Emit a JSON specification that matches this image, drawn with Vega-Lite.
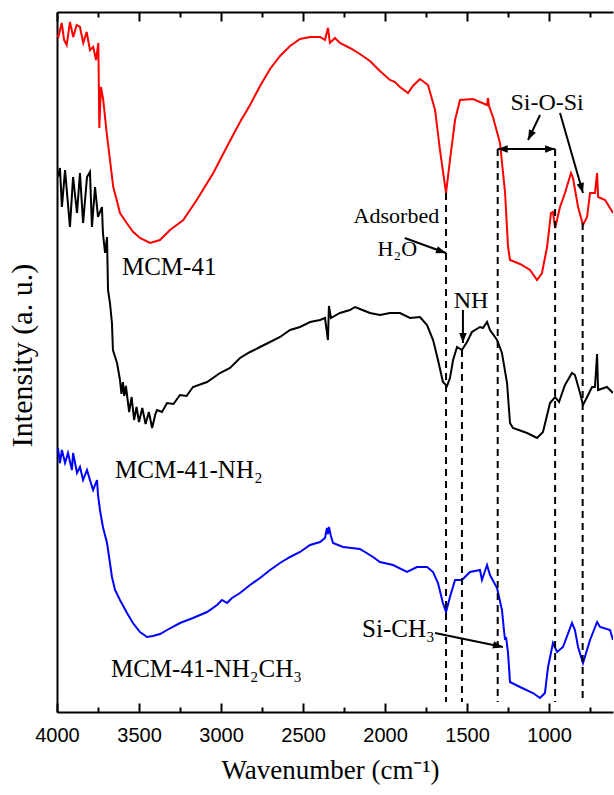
{
  "$schema": "https://vega.github.io/schema/vega-lite/v6.json",
  "autosize": {"type": "none"},
  "width": 556,
  "height": 700,
  "padding": {"left": 57, "top": 12, "right": 1, "bottom": 83},
  "config": {"view": {"stroke": null}, "background": "white"},
  "datasets": {
    "red": [
      {"w":4000,"v":677},{"w":3992,"v":675},{"w":3971,"v":689},{"w":3957,"v":672},{"w":3941,"v":667},{"w":3921,"v":690},{"w":3901,"v":675},{"w":3880,"v":687},{"w":3860,"v":685},{"w":3840,"v":669},{"w":3819,"v":680},{"w":3799,"v":662},{"w":3779,"v":665},{"w":3762,"v":652},{"w":3748,"v":669},{"w":3742,"v":584},{"w":3732,"v":625},{"w":3718,"v":612},{"w":3697,"v":579},{"w":3677,"v":552},{"w":3657,"v":525},{"w":3636,"v":512},{"w":3616,"v":499},{"w":3575,"v":489},{"w":3535,"v":480},{"w":3494,"v":474},{"w":3433,"v":469},{"w":3372,"v":472},{"w":3311,"v":482},{"w":3230,"v":492},{"w":3148,"v":512},{"w":3047,"v":539},{"w":2965,"v":565},{"w":2884,"v":590},{"w":2823,"v":607},{"w":2762,"v":626},{"w":2701,"v":643},{"w":2640,"v":656},{"w":2579,"v":666},{"w":2518,"v":673},{"w":2457,"v":675},{"w":2396,"v":675},{"w":2366,"v":672},{"w":2348,"v":684},{"w":2336,"v":669},{"w":2305,"v":674},{"w":2275,"v":669},{"w":2214,"v":664},{"w":2153,"v":658},{"w":2092,"v":651},{"w":2031,"v":641},{"w":1970,"v":632},{"w":1939,"v":630},{"w":1909,"v":625},{"w":1860,"v":619},{"w":1830,"v":626},{"w":1787,"v":633},{"w":1738,"v":627},{"w":1695,"v":602},{"w":1665,"v":562},{"w":1628,"v":519},{"w":1604,"v":552},{"w":1573,"v":592},{"w":1543,"v":612},{"w":1464,"v":613},{"w":1378,"v":607},{"w":1372,"v":614},{"w":1366,"v":606},{"w":1342,"v":595},{"w":1299,"v":569},{"w":1268,"v":519},{"w":1250,"v":465},{"w":1238,"v":452},{"w":1177,"v":448},{"w":1116,"v":442},{"w":1073,"v":432},{"w":1043,"v":439},{"w":1012,"v":465},{"w":988,"v":499},{"w":976,"v":500},{"w":963,"v":484},{"w":933,"v":505},{"w":903,"v":519},{"w":866,"v":539},{"w":854,"v":534},{"w":823,"v":505},{"w":793,"v":487},{"w":768,"v":495},{"w":750,"v":519},{"w":720,"v":519},{"w":707,"v":539},{"w":701,"v":515},{"w":658,"v":512},{"w":610,"v":499}
    ],
    "black": [
      {"w":3994,"v":535},{"w":3982,"v":544},{"w":3970,"v":505},{"w":3951,"v":542},{"w":3921,"v":485},{"w":3902,"v":535},{"w":3878,"v":499},{"w":3860,"v":539},{"w":3841,"v":489},{"w":3817,"v":535},{"w":3799,"v":540},{"w":3787,"v":485},{"w":3768,"v":525},{"w":3750,"v":495},{"w":3726,"v":505},{"w":3720,"v":479},{"w":3707,"v":459},{"w":3695,"v":475},{"w":3689,"v":422},{"w":3677,"v":409},{"w":3665,"v":389},{"w":3659,"v":362},{"w":3634,"v":349},{"w":3616,"v":332},{"w":3607,"v":318},{"w":3598,"v":330},{"w":3590,"v":316},{"w":3580,"v":326},{"w":3560,"v":300},{"w":3545,"v":315},{"w":3530,"v":292},{"w":3515,"v":305},{"w":3500,"v":290},{"w":3480,"v":304},{"w":3460,"v":288},{"w":3440,"v":300},{"w":3420,"v":284},{"w":3400,"v":298},{"w":3390,"v":302},{"w":3360,"v":300},{"w":3329,"v":309},{"w":3290,"v":308},{"w":3250,"v":317},{"w":3210,"v":316},{"w":3171,"v":325},{"w":3085,"v":330},{"w":3006,"v":339},{"w":2945,"v":344},{"w":2884,"v":354},{"w":2823,"v":360},{"w":2762,"v":365},{"w":2701,"v":370},{"w":2640,"v":375},{"w":2579,"v":382},{"w":2518,"v":385},{"w":2457,"v":390},{"w":2396,"v":392},{"w":2366,"v":394},{"w":2348,"v":372},{"w":2342,"v":406},{"w":2330,"v":394},{"w":2275,"v":399},{"w":2214,"v":402},{"w":2183,"v":405},{"w":2153,"v":403},{"w":2092,"v":399},{"w":2031,"v":397},{"w":1970,"v":399},{"w":1909,"v":399},{"w":1848,"v":394},{"w":1787,"v":395},{"w":1744,"v":387},{"w":1707,"v":372},{"w":1677,"v":352},{"w":1647,"v":330},{"w":1622,"v":326},{"w":1604,"v":334},{"w":1585,"v":352},{"w":1561,"v":365},{"w":1531,"v":362},{"w":1500,"v":370},{"w":1470,"v":380},{"w":1421,"v":385},{"w":1403,"v":384},{"w":1378,"v":390},{"w":1360,"v":382},{"w":1317,"v":372},{"w":1287,"v":359},{"w":1256,"v":329},{"w":1238,"v":289},{"w":1220,"v":284},{"w":1134,"v":279},{"w":1073,"v":274},{"w":1037,"v":280},{"w":994,"v":309},{"w":963,"v":315},{"w":939,"v":310},{"w":903,"v":327},{"w":860,"v":339},{"w":842,"v":337},{"w":811,"v":319},{"w":793,"v":307},{"w":768,"v":315},{"w":738,"v":325},{"w":720,"v":325},{"w":707,"v":358},{"w":701,"v":322},{"w":647,"v":325},{"w":610,"v":319}
    ],
    "blue": [
      {"w":3994,"v":264},{"w":3982,"v":249},{"w":3970,"v":262},{"w":3951,"v":249},{"w":3933,"v":259},{"w":3909,"v":242},{"w":3902,"v":259},{"w":3878,"v":239},{"w":3860,"v":245},{"w":3841,"v":232},{"w":3817,"v":242},{"w":3799,"v":232},{"w":3780,"v":222},{"w":3756,"v":232},{"w":3750,"v":217},{"w":3738,"v":202},{"w":3720,"v":185},{"w":3695,"v":169},{"w":3677,"v":149},{"w":3665,"v":135},{"w":3646,"v":122},{"w":3616,"v":112},{"w":3573,"v":99},{"w":3537,"v":89},{"w":3494,"v":80},{"w":3451,"v":75},{"w":3415,"v":76},{"w":3372,"v":78},{"w":3329,"v":82},{"w":3250,"v":89},{"w":3171,"v":94},{"w":3085,"v":100},{"w":3024,"v":107},{"w":2994,"v":112},{"w":2963,"v":109},{"w":2933,"v":114},{"w":2884,"v":119},{"w":2823,"v":127},{"w":2762,"v":134},{"w":2701,"v":142},{"w":2640,"v":149},{"w":2579,"v":155},{"w":2518,"v":160},{"w":2457,"v":167},{"w":2396,"v":170},{"w":2366,"v":174},{"w":2354,"v":184},{"w":2348,"v":178},{"w":2342,"v":185},{"w":2330,"v":176},{"w":2317,"v":169},{"w":2256,"v":165},{"w":2153,"v":163},{"w":2073,"v":155},{"w":2031,"v":150},{"w":1951,"v":147},{"w":1866,"v":140},{"w":1805,"v":145},{"w":1744,"v":145},{"w":1707,"v":140},{"w":1677,"v":129},{"w":1647,"v":109},{"w":1628,"v":100},{"w":1604,"v":115},{"w":1573,"v":132},{"w":1531,"v":132},{"w":1482,"v":140},{"w":1421,"v":142},{"w":1409,"v":132},{"w":1378,"v":147},{"w":1360,"v":137},{"w":1317,"v":124},{"w":1287,"v":102},{"w":1275,"v":82},{"w":1268,"v":72},{"w":1262,"v":75},{"w":1250,"v":59},{"w":1238,"v":30},{"w":1177,"v":25},{"w":1098,"v":19},{"w":1055,"v":14},{"w":1025,"v":19},{"w":1006,"v":45},{"w":976,"v":69},{"w":951,"v":60},{"w":915,"v":65},{"w":860,"v":89},{"w":842,"v":82},{"w":823,"v":65},{"w":793,"v":49},{"w":750,"v":72},{"w":707,"v":90},{"w":689,"v":85},{"w":628,"v":82},{"w":610,"v":72}
    ],
    "dashes": [
      {"w":1628,"top":519,"bottom":10},
      {"w":1531,"top":362,"bottom":10},
      {"w":1313,"top":563,"bottom":10},
      {"w":963,"top":563,"bottom":10},
      {"w":795,"top":489,"bottom":10}
    ],
    "arrows": [
      {"id":"adsorbed","w1":1880,"v1":474,"w2":1628,"v2":459},
      {"id":"nh","w1":1525,"v1":402,"w2":1525,"v2":369},
      {"id":"sios1","w1":1055,"v1":597,"w2":1128,"v2":572},
      {"id":"sios2","w1":933,"v1":599,"w2":793,"v2":519},
      {"id":"double","w1":1313,"v1":563,"w2":963,"v2":563},
      {"id":"sich3","w1":1695,"v1":79,"w2":1281,"v2":65}
    ],
    "labelsLeft": [
      {"text":"MCM-41","w":3604,"v":437},
      {"text":"MCM-41-NH₂","w":3646,"v":234},
      {"text":"MCM-41-NH₂CH₃","w":3671,"v":35},
      {"text":"Si-CH₃","w":2140,"v":75}
    ],
    "labelsCenter": [
      {"text":"NH","w":1476,"v":404},
      {"text":"Si-O-Si","w":1012,"v":602}
    ],
    "labelsWater": [
      {"text":"H₂O","w":1925,"v":456}
    ],
    "labelsRight": [
      {"text":"Adsorbed","w":1670,"v":489}
    ]
  },
  "layer": [
    {
      "data": {"name": "red"},
      "mark": {"type": "line", "color": "#ff0000", "strokeWidth": 2, "clip": true},
      "encoding": {
        "x": {"field": "w", "type": "quantitative", "scale": {"domain": [4000, 610], "nice": false, "zero": false},
          "axis": {"orient": "bottom", "values": [4000,3500,3000,2500,2000,1500,1000], "format": "d", "tickSize": -9, "tickWidth": 2, "tickColor": "black", "domainWidth": 2, "domainColor": "black", "grid": false, "labelFont": "Liberation Sans", "labelFontSize": 20, "labelColor": "black", "labelPadding": 22, "labelFlush": false, "labelOverlap": false, "title": "Wavenumber (cm⁻¹)", "titleFont": "Liberation Serif", "titleFontSize": 27, "titleFontWeight": "normal", "titleColor": "black", "titleX": 273, "titleY": 66, "titleBaseline": "alphabetic"}},
        "y": {"field": "v", "type": "quantitative", "scale": {"domain": [0, 700], "nice": false, "zero": false},
          "axis": {"orient": "left", "ticks": false, "labels": false, "grid": false, "domainWidth": 2, "domainColor": "black", "title": "Intensity (a. u.)", "titleFont": "Liberation Serif", "titleFontSize": 30, "titleFontWeight": "normal", "titleColor": "black", "titleX": -26, "titleY": 343, "titleBaseline": "alphabetic", "titleAngle": -90}}
      }
    },
    {
      "data": {"name": "black"},
      "mark": {"type": "line", "color": "#000000", "strokeWidth": 2, "clip": true},
      "encoding": {
        "x": {"field": "w", "type": "quantitative", "scale": {"domain": [4000, 610], "nice": false, "zero": false},
          "axis": {"orient": "bottom", "values": [3750,3250,2750,2250,1750,1250,750], "tickSize": -5, "tickWidth": 2, "tickColor": "black", "domain": false, "labels": false, "grid": false, "title": null}},
        "y": {"field": "v", "type": "quantitative", "scale": {"domain": [0, 700], "nice": false, "zero": false}, "axis": null}
      }
    },
    {
      "data": {"name": "blue"},
      "mark": {"type": "line", "color": "#0000ff", "strokeWidth": 2, "clip": true},
      "encoding": {
        "x": {"field": "w", "type": "quantitative", "scale": {"domain": [4000, 610], "nice": false, "zero": false},
          "axis": {"orient": "top", "values": [4000,3500,3000,2500,2000,1500,1000], "tickSize": -9, "tickWidth": 2, "tickColor": "black", "domainWidth": 2, "domainColor": "black", "labels": false, "grid": false, "title": null}},
        "y": {"field": "v", "type": "quantitative", "scale": {"domain": [0, 700], "nice": false, "zero": false}, "axis": null}
      }
    },
    {
      "data": {"name": "dashes"},
      "mark": {"type": "rule", "color": "black", "strokeWidth": 2, "strokeDash": [7, 5]},
      "encoding": {
        "x": {"field": "w", "type": "quantitative", "scale": {"domain": [4000, 610], "nice": false, "zero": false},
          "axis": {"orient": "top", "values": [3750,3250,2750,2250,1750,1250,750], "tickSize": -5, "tickWidth": 2, "tickColor": "black", "domain": false, "labels": false, "grid": false, "title": null}},
        "y": {"field": "top", "type": "quantitative", "scale": {"domain": [0, 700], "nice": false, "zero": false}, "axis": null},
        "y2": {"field": "bottom"}
      }
    },
    {
      "data": {"name": "arrows"},
      "mark": {"type": "rule", "color": "black", "strokeWidth": 2},
      "encoding": {
        "x": {"field": "w1", "type": "quantitative", "scale": {"domain": [4000, 610], "nice": false, "zero": false}, "axis": null},
        "x2": {"field": "w2"},
        "y": {"field": "v1", "type": "quantitative", "scale": {"domain": [0, 700], "nice": false, "zero": false}, "axis": null},
        "y2": {"field": "v2"}
      }
    },
    {
      "data": {"name": "arrows"},
      "transform": [{"filter": "datum.id === 'adsorbed'"}],
      "mark": {"type": "point", "shape": "M0,0L-2,-0.75L-2,0.75Z", "filled": true, "color": "black", "opacity": 1, "size": 100, "angle": 19},
      "encoding": {
        "x": {"field": "w2", "type": "quantitative", "scale": {"domain": [4000, 610], "nice": false, "zero": false}, "axis": null},
        "y": {"field": "v2", "type": "quantitative", "scale": {"domain": [0, 700], "nice": false, "zero": false}, "axis": null}
      }
    },
    {
      "data": {"name": "arrows"},
      "transform": [{"filter": "datum.id === 'nh'"}],
      "mark": {"type": "point", "shape": "M0,0L-2,-0.75L-2,0.75Z", "filled": true, "color": "black", "opacity": 1, "size": 100, "angle": 90},
      "encoding": {
        "x": {"field": "w2", "type": "quantitative", "scale": {"domain": [4000, 610], "nice": false, "zero": false}, "axis": null},
        "y": {"field": "v2", "type": "quantitative", "scale": {"domain": [0, 700], "nice": false, "zero": false}, "axis": null}
      }
    },
    {
      "data": {"name": "arrows"},
      "transform": [{"filter": "datum.id === 'sios1'"}],
      "mark": {"type": "point", "shape": "M0,0L-2,-0.75L-2,0.75Z", "filled": true, "color": "black", "opacity": 1, "size": 100, "angle": 116},
      "encoding": {
        "x": {"field": "w2", "type": "quantitative", "scale": {"domain": [4000, 610], "nice": false, "zero": false}, "axis": null},
        "y": {"field": "v2", "type": "quantitative", "scale": {"domain": [0, 700], "nice": false, "zero": false}, "axis": null}
      }
    },
    {
      "data": {"name": "arrows"},
      "transform": [{"filter": "datum.id === 'sios2'"}],
      "mark": {"type": "point", "shape": "M0,0L-2,-0.75L-2,0.75Z", "filled": true, "color": "black", "opacity": 1, "size": 100, "angle": 74},
      "encoding": {
        "x": {"field": "w2", "type": "quantitative", "scale": {"domain": [4000, 610], "nice": false, "zero": false}, "axis": null},
        "y": {"field": "v2", "type": "quantitative", "scale": {"domain": [0, 700], "nice": false, "zero": false}, "axis": null}
      }
    },
    {
      "data": {"name": "arrows"},
      "transform": [{"filter": "datum.id === 'double'"}],
      "mark": {"type": "point", "shape": "M0,0L-2,-0.75L-2,0.75Z", "filled": true, "color": "black", "opacity": 1, "size": 100, "angle": 0},
      "encoding": {
        "x": {"field": "w2", "type": "quantitative", "scale": {"domain": [4000, 610], "nice": false, "zero": false}, "axis": null},
        "y": {"field": "v2", "type": "quantitative", "scale": {"domain": [0, 700], "nice": false, "zero": false}, "axis": null}
      }
    },
    {
      "data": {"name": "arrows"},
      "transform": [{"filter": "datum.id === 'double'"}],
      "mark": {"type": "point", "shape": "M0,0L-2,-0.75L-2,0.75Z", "filled": true, "color": "black", "opacity": 1, "size": 100, "angle": 180},
      "encoding": {
        "x": {"field": "w1", "type": "quantitative", "scale": {"domain": [4000, 610], "nice": false, "zero": false}, "axis": null},
        "y": {"field": "v1", "type": "quantitative", "scale": {"domain": [0, 700], "nice": false, "zero": false}, "axis": null}
      }
    },
    {
      "data": {"name": "arrows"},
      "transform": [{"filter": "datum.id === 'sich3'"}],
      "mark": {"type": "point", "shape": "M0,0L-2,-0.75L-2,0.75Z", "filled": true, "color": "black", "opacity": 1, "size": 100, "angle": 12},
      "encoding": {
        "x": {"field": "w2", "type": "quantitative", "scale": {"domain": [4000, 610], "nice": false, "zero": false}, "axis": null},
        "y": {"field": "v2", "type": "quantitative", "scale": {"domain": [0, 700], "nice": false, "zero": false}, "axis": null}
      }
    },
    {
      "data": {"name": "labelsLeft"},
      "mark": {"type": "text", "align": "left", "baseline": "alphabetic", "font": "Liberation Serif", "fontSize": 25, "color": "black"},
      "encoding": {
        "x": {"field": "w", "type": "quantitative", "scale": {"domain": [4000, 610], "nice": false, "zero": false}, "axis": null},
        "y": {"field": "v", "type": "quantitative", "scale": {"domain": [0, 700], "nice": false, "zero": false}, "axis": null},
        "text": {"field": "text"}
      }
    },
    {
      "data": {"name": "labelsCenter"},
      "mark": {"type": "text", "align": "center", "baseline": "alphabetic", "font": "Liberation Serif", "fontSize": 24, "color": "black"},
      "encoding": {
        "x": {"field": "w", "type": "quantitative", "scale": {"domain": [4000, 610], "nice": false, "zero": false}, "axis": null},
        "y": {"field": "v", "type": "quantitative", "scale": {"domain": [0, 700], "nice": false, "zero": false}, "axis": null},
        "text": {"field": "text"}
      }
    },
    {
      "data": {"name": "labelsWater"},
      "mark": {"type": "text", "align": "center", "baseline": "alphabetic", "font": "Liberation Serif", "fontSize": 22, "color": "black"},
      "encoding": {
        "x": {"field": "w", "type": "quantitative", "scale": {"domain": [4000, 610], "nice": false, "zero": false}, "axis": null},
        "y": {"field": "v", "type": "quantitative", "scale": {"domain": [0, 700], "nice": false, "zero": false}, "axis": null},
        "text": {"field": "text"}
      }
    },
    {
      "data": {"name": "labelsRight"},
      "mark": {"type": "text", "align": "right", "baseline": "alphabetic", "font": "Liberation Serif", "fontSize": 22, "color": "black"},
      "encoding": {
        "x": {"field": "w", "type": "quantitative", "scale": {"domain": [4000, 610], "nice": false, "zero": false}, "axis": null},
        "y": {"field": "v", "type": "quantitative", "scale": {"domain": [0, 700], "nice": false, "zero": false}, "axis": null},
        "text": {"field": "text"}
      }
    }
  ],
  "resolve": {"axis": {"x": "independent", "y": "independent"}}
}
